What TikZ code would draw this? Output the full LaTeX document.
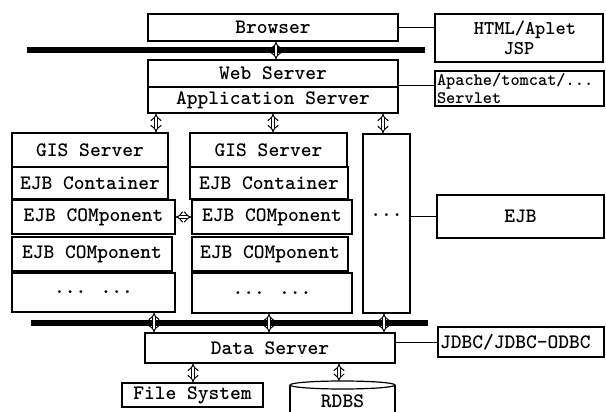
\documentclass[tikz,border=0pt]{standalone}
\usepackage{fontspec}
\usetikzlibrary{arrows.meta}
\newcommand\boxfont{\ttfamily\bfseries\fontsize{20.5}{20}\selectfont}
\tikzset{
  box/.style={draw, line width=1.2pt, inner sep=0pt, font=\boxfont},
  bus/.style={line width=5.5pt},
  link/.style={line width=1pt},
  dbl/.style={double=white, double distance=2.8pt, line width=1pt, {Implies}-{Implies}},
}
\begin{document}
\begin{tikzpicture}[x=1pt,y=-1pt]
\useasboundingbox (0,0) rectangle (606,412);
% top
\node[box, minimum width=250, minimum height=27] (browser) at (273,27.5) {Browser};
\node[box, minimum width=168, minimum height=48, align=center, font=\ttfamily\bfseries\fontsize{19.5}{19.5}\selectfont] (html) at (519,38) {\hspace*{12pt}HTML/Aplet\\JSP};
\node[box, minimum width=250, minimum height=27] (web) at (273,73.5) {Web Server};
\node[box, minimum width=250, minimum height=26] (app) at (273,100) {Application Server};
\node[box, minimum width=169, minimum height=35, text width=165pt, align=left, font=\ttfamily\bfseries\fontsize{17.5}{17.5}\selectfont] (apache) at (519.5,88.5) {Apache/tomcat/...\\Servlet};
\draw[bus] (27,50) coordinate (b1l) -- (425,50) coordinate (b1r);
% columns
\node[box, minimum width=156, minimum height=34] (gis1) at (90,150) {GIS Server};
\node[box, minimum width=156, minimum height=32] (cont1) at (90,183) {EJB Container};
\node[box, minimum width=163, minimum height=34] (comp1a) at (93.5,217) {EJB COMponent};
\node[box, minimum width=160, minimum height=34] (comp1b) at (92,254) {EJB COMponent};
\node[box, minimum width=163, minimum height=39] (dots1) at (93.5,292.5) {... ...};
\node[box, minimum width=157, minimum height=34] (gis2) at (268.5,150) {GIS Server};
\node[box, minimum width=158, minimum height=32] (cont2) at (269,183) {EJB Container};
\node[box, minimum width=160, minimum height=34] (comp2a) at (272,217) {EJB COMponent};
\node[box, minimum width=156, minimum height=34] (comp2b) at (270,254) {EJB COMponent};
\node[box, minimum width=160, minimum height=40] (dots2) at (272,293) {... ...};
\node[box, minimum width=47, minimum height=179, text depth=16pt] (col3) at (386.5,223.5) {...};
\node[box, minimum width=167, minimum height=43] (ejb) at (520.5,216.5) {EJB};
% bottom
\draw[bus] (31,323) coordinate (b2l) -- (428,323) coordinate (b2r);
\node[box, minimum width=250, minimum height=30] (data) at (270,348) {Data Server};
\node[box, minimum width=166, minimum height=30, text width=162pt, align=left] (jdbc) at (521,342) {JDBC/JDBC-ODBC};
\node[box, minimum width=141, minimum height=24] (fs) at (192.5,395) {File System};
\draw[line width=1.2pt] (290,385) -- (290,414) (395,385) -- (395,414);
\draw[line width=1.2pt] (342.5,385) ellipse [x radius=52.5, y radius=4];
\node[box, draw=none] (rdbs) at (342.5,401) {RDBS};
\coordinate (rdbstop) at (339,381);
% links
\draw[link] (browser.east) -- (browser.east -| html.west);
\draw[link] (398,86) coordinate (wsr) -- (wsr -| apache.west);
\draw[link] (ejb.west -| col3.east) -- (ejb.west);
\draw[link] (jdbc.west -| data.east) -- (jdbc.west);
% arrows
\draw[dbl] (browser.south -| 276,0) -- (web.north -| 276,0);
\draw[dbl] (app.south -| 156,0) -- (gis1.north -| 156,0);
\draw[dbl] (app.south -| 273,0) -- (gis2.north -| 273,0);
\draw[dbl] (app.south -| 383,0) -- (col3.north -| 383,0);
\draw[dbl] (comp1a.east) -- (comp2a.west);
\draw[dbl] (dots1.south -| 154,0) -- (data.north -| 154,0);
\draw[dbl] (dots2.south -| 269,0) -- (data.north -| 269,0);
\draw[dbl] (col3.south -| 384,0) -- (data.north -| 384,0);
\draw[dbl] (data.south -| 193,0) -- (fs.north -| 193,0);
\draw[dbl] (data.south -| 339,0) -- (rdbstop);
\end{tikzpicture}
\end{document}
